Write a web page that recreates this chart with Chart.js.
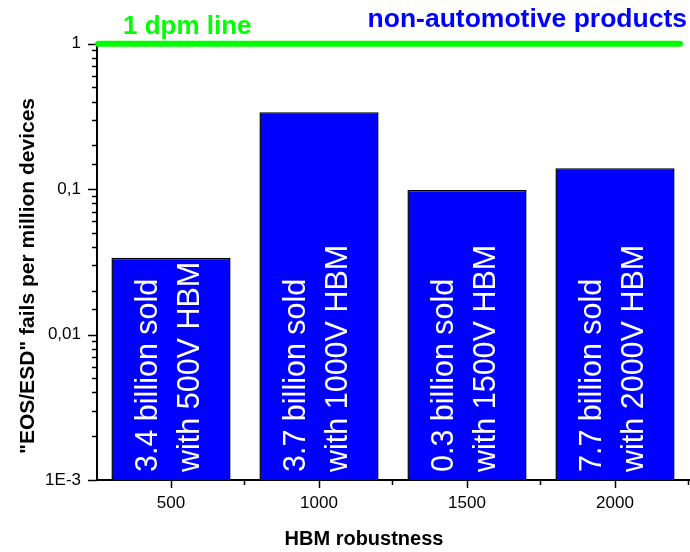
<!DOCTYPE html>
<html><head><meta charset="utf-8">
<script src="https://cdn.jsdelivr.net/npm/chart.js@4"></script>
<style>html,body{margin:0;padding:0;background:#fff}#wrap{width:690px;height:552px;position:relative}</style>
</head><body><div id="wrap"><canvas id="c" width="690" height="552"></canvas></div>
<script>
const categories = ['500', '1000', '1500', '2000'];
const failsPerMillion = [0.0338, 0.338, 0.0987, 0.139];
const soldLine1 = ['3.4 billion sold', '3.7 billion sold', '0.3 billion sold', '7.7 billion sold'];
const soldLine2 = ['with 500V HBM', 'with 1000V HBM', 'with 1500V HBM', 'with 2000V HBM'];
const yTickValues = [0.001, 0.01, 0.1, 1];
const yTickLabels = ['1E-3', '0,01', '0,1', '1'];
const dpmLineValue = 1;
const dpmLineLabel = '1 dpm line';
const cornerLabel = 'non-automotive products';
const xTitle = 'HBM robustness';
const yTitle = '"EOS/ESD" fails per million devices';

const FONT = "Arial, 'Liberation Sans', sans-serif";

function labelFor(v) {
  for (let i = 0; i < yTickValues.length; i++) {
    if (Math.abs(Math.log10(v) - Math.log10(yTickValues[i])) < 1e-6) return yTickLabels[i];
  }
  return '';
}
function isMajorVal(v) { return labelFor(v) !== ''; }

const decor = {
  id: 'decor',
  afterDatasetsDraw(chart) {
    const ctx = chart.ctx;
    const area = chart.chartArea;
    const meta = chart.getDatasetMeta(0);
    ctx.save();
    ctx.fillStyle = '#ffffff';
    ctx.font = '30.5px ' + FONT;
    ctx.textAlign = 'left';
    ctx.textBaseline = 'alphabetic';
    meta.data.forEach((bar, i) => {
      const startY = area.bottom - 8;
      ctx.save();
      ctx.translate(bar.x - 14, startY);
      ctx.rotate(-Math.PI / 2);
      ctx.fillText(soldLine1[i], 0, 0);
      ctx.restore();
      ctx.save();
      ctx.translate(bar.x + 28, startY);
      ctx.rotate(-Math.PI / 2);
      ctx.fillText(soldLine2[i], 0, 0);
      ctx.restore();
    });
    ctx.restore();
  },
  afterDraw(chart) {
    const ctx = chart.ctx;
    const ys = chart.scales.y, xs = chart.scales.x;
    const area = chart.chartArea;
    ctx.save();
    ctx.strokeStyle = '#000';
    ctx.lineWidth = 1.5;
    ys.ticks.forEach(t => {
      const py = Math.round(ys.getPixelForValue(t.value)) + 0.5;
      const len = isMajorVal(t.value) ? 9 : 5;
      ctx.beginPath();
      ctx.moveTo(area.left, py);
      ctx.lineTo(area.left - len, py);
      ctx.stroke();
    });
    const half = (xs.getPixelForValue(1) - xs.getPixelForValue(0)) / 2;
    for (let i = 0; i < categories.length; i++) {
      const px = Math.round(xs.getPixelForValue(i)) + 0.5;
      ctx.beginPath(); ctx.moveTo(px, area.bottom); ctx.lineTo(px, area.bottom + 8); ctx.stroke();
      const pm = Math.round(xs.getPixelForValue(i) + half) - 0.5;
      ctx.beginPath(); ctx.moveTo(pm, area.bottom); ctx.lineTo(pm, area.bottom + 5); ctx.stroke();
    }
    const gy = ys.getPixelForValue(dpmLineValue);
    ctx.strokeStyle = '#00ff00';
    ctx.lineWidth = 6;
    ctx.lineCap = 'round';
    ctx.beginPath();
    ctx.moveTo(area.left + 1, gy);
    ctx.lineTo(area.right - 9, gy);
    ctx.stroke();
    ctx.textBaseline = 'alphabetic';
    ctx.font = 'bold 26px ' + FONT;
    ctx.fillStyle = '#00ff00';
    ctx.textAlign = 'left';
    ctx.fillText(dpmLineLabel, 123, 34);
    ctx.font = 'bold 26.5px ' + FONT;
    ctx.fillStyle = '#0000ff';
    ctx.textAlign = 'right';
    ctx.fillText(cornerLabel, 687, 27);
    ctx.fillStyle = '#000';
    ctx.font = 'bold 20px ' + FONT;
    ctx.textAlign = 'center';
    ctx.fillText(xTitle, 364, 545);
    ctx.font = 'bold 21px ' + FONT;
    ctx.save();
    ctx.translate(34, 276);
    ctx.rotate(-Math.PI / 2);
    ctx.fillText(yTitle, 0, 0);
    ctx.restore();
    ctx.restore();
  }
};

new Chart(document.getElementById('c'), {
  type: 'bar',
  data: {
    labels: categories,
    datasets: [{
      data: failsPerMillion,
      backgroundColor: '#0000ff',
      borderColor: '#000000',
      borderWidth: 1.5,
      borderSkipped: 'bottom',
      barPercentage: 0.805,
      categoryPercentage: 1.0
    }]
  },
  options: {
    responsive: false,
    animation: false,
    devicePixelRatio: 1,
    layout: { padding: { top: 43.7, left: 0, right: 1, bottom: 0 } },
    plugins: { legend: { display: false }, tooltip: { enabled: false }, title: { display: false } },
    scales: {
      x: {
        type: 'category',
        offset: true,
        grid: { display: false, drawTicks: false },
        border: { display: true, color: '#000', width: 2 },
        ticks: { color: '#000', font: { family: FONT, size: 17 }, padding: 13, maxRotation: 0 },
        afterFit(s) { s.height = 72; }
      },
      y: {
        type: 'logarithmic',
        min: 0.001,
        max: 1,
        grid: { display: false, drawTicks: false },
        border: { display: true, color: '#000', width: 2 },
        ticks: {
          autoSkip: false,
          color: '#000',
          font: { family: FONT, size: 17 },
          padding: 16,
          callback: (v) => labelFor(v)
        },
        afterFit(s) { s.width = 97; }
      }
    }
  },
  plugins: [decor]
});
</script>
</body></html>
